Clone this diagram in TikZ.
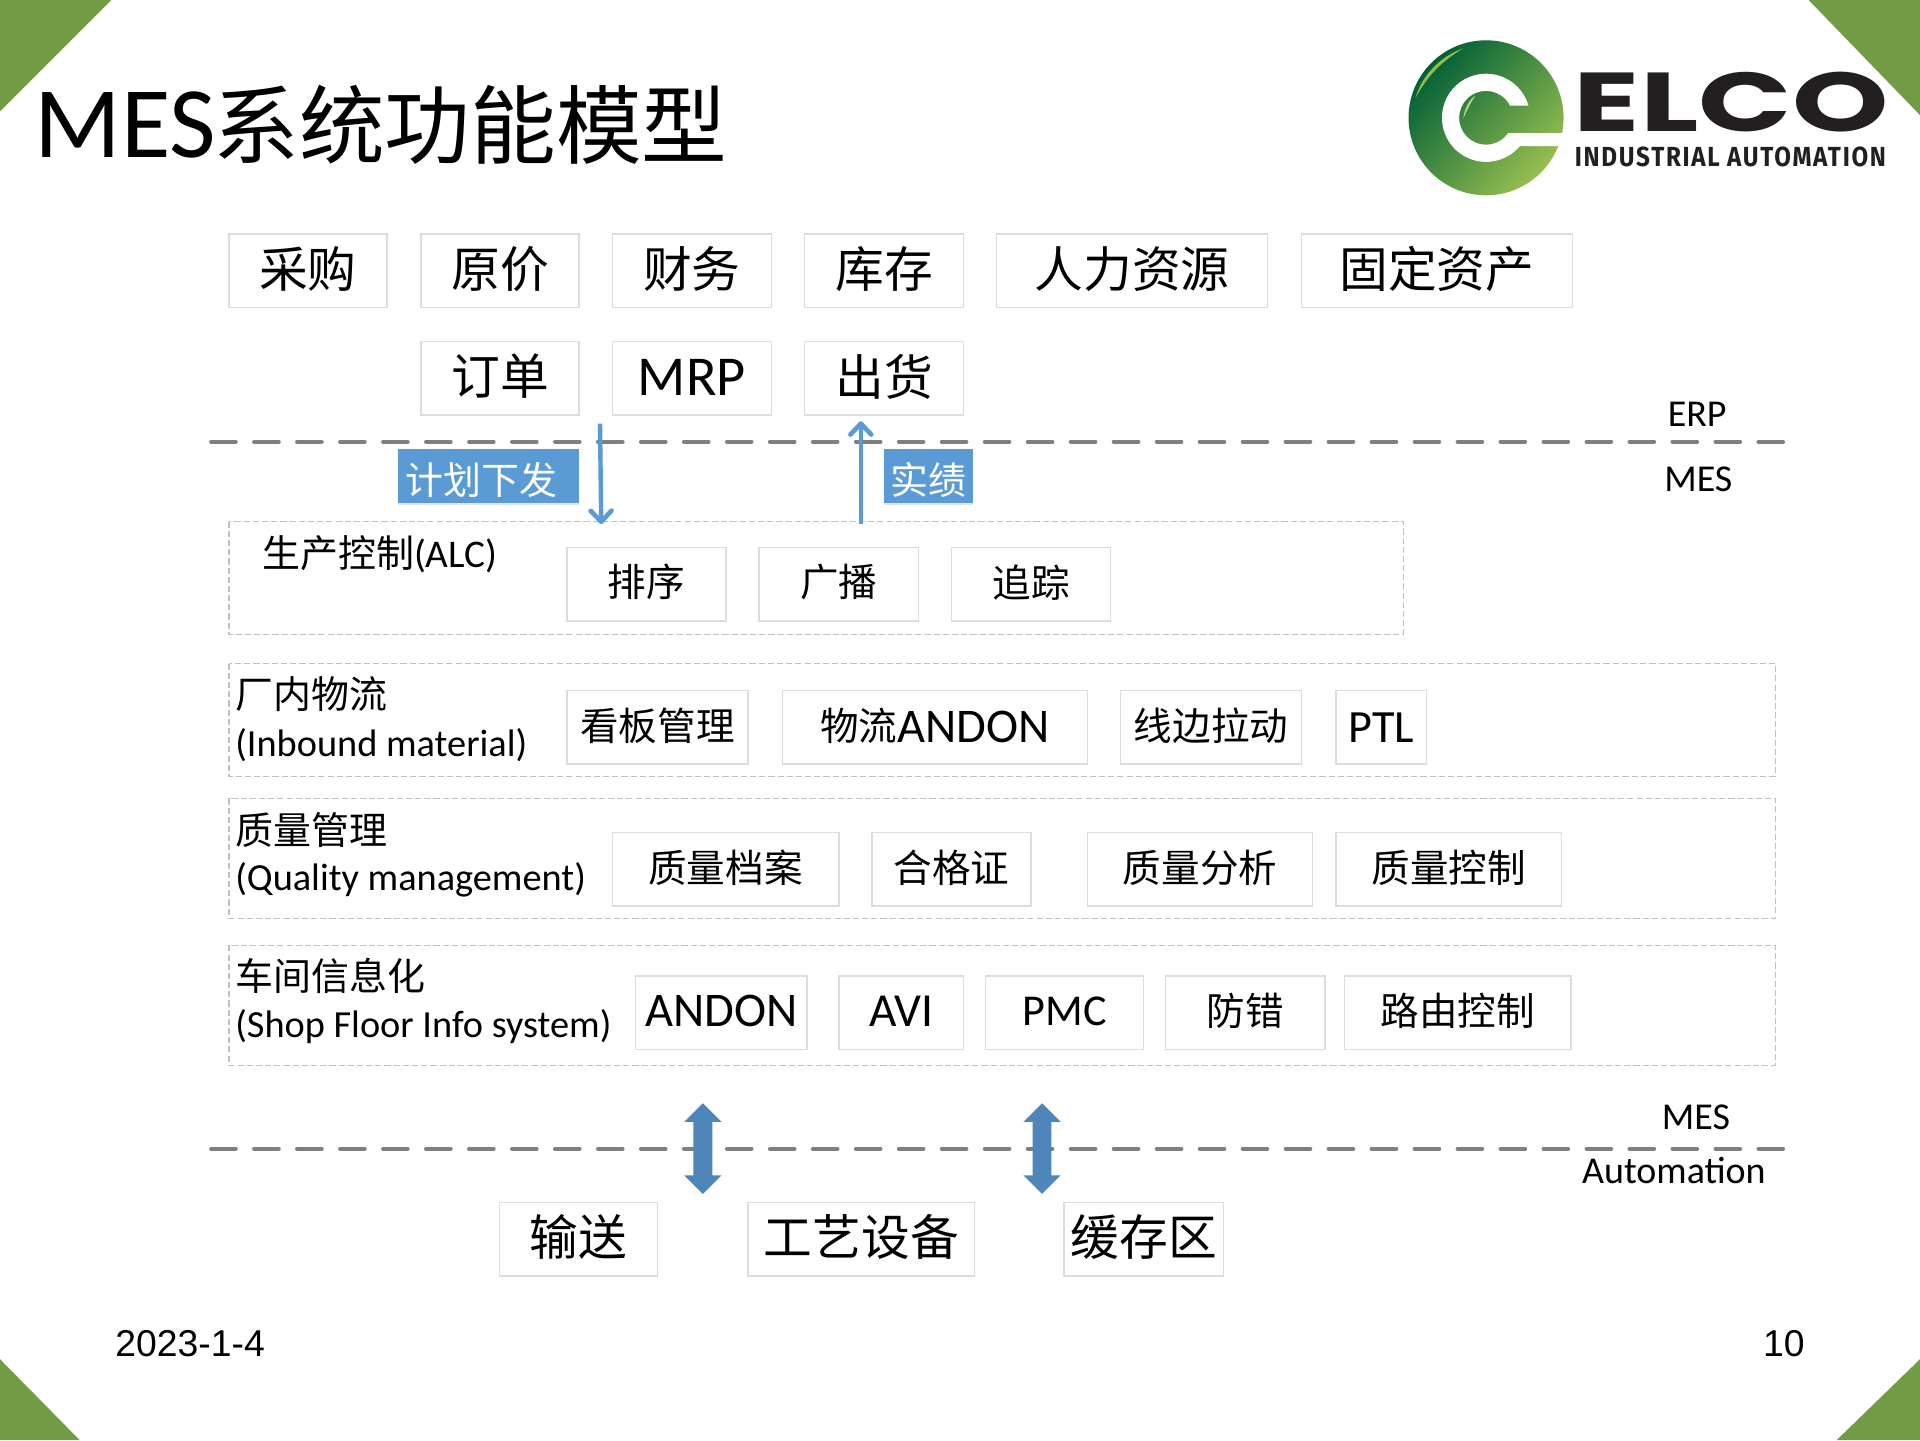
\documentclass[tikz,border=0pt]{standalone}
\usepackage{fontspec}
\usepackage{graphicx}
\usetikzlibrary{shapes.arrows,shadows,arrows.meta,calc}
\setmainfont{Carlito}
\newfontfamily\cjk{Noto Sans CJK SC}
\newfontfamily\arial{Liberation Sans}
\newfontfamily\logofont{Poppins}[BoldFont=* Bold]
\newfontfamily\logosub{Fira Sans}[BoldFont=* Bold,LetterSpace=7]
\newcommand\fsz[1]{\fontsize{#1}{#1}\selectfont}
\newcommand\cb[1]{\raisebox{1.5pt}[\height][\depth]{\cjk #1}}
\newcommand\lt[2]{{\fsz{#1}#2}}
\newcommand\ltup[2]{\raisebox{1pt}[\height][\depth]{\fsz{#1}#2}}
\definecolor{cornergreen}{HTML}{729B46}
\definecolor{boxline}{HTML}{DCDCDC}
\definecolor{groupline}{HTML}{BFBFBF}
\definecolor{dashgrey}{HTML}{7F7F7F}
\definecolor{flowblue}{HTML}{5B9BD5}
\definecolor{blockblue}{HTML}{4F86BA}
\definecolor{logodark}{HTML}{005F36}
\definecolor{logomid}{HTML}{17693B}
\definecolor{logolight}{HTML}{98BF50}
\definecolor{logoshine}{HTML}{93BC4C}
\definecolor{logotext}{HTML}{231F20}
\tikzset{
  x=1pt,y=-1pt,
  bx/.style={draw=boxline,line width=1.2pt,fill=white,inner sep=0pt,align=center,text=black},
  bigbox/.style={bx,font=\fsz{39.8}},
  smallbox/.style={bx,font=\fsz{31.5}},
  group/.style={draw=groupline,line width=1.2pt,dash pattern=on 5pt off 2.5pt},
  sep/.style={draw=dashgrey,line width=3.4pt,line cap=round,dash pattern=on 20pt off 15.1pt},
  flow/.style={draw=flowblue,line width=3.6pt,-{Straight Barb[length=9pt,width=17pt,line width=3.8pt,round]}},
  tag/.style={fill=flowblue,text=white,inner sep=0pt,font=\fsz{31},drop shadow={shadow xshift=0pt,shadow yshift=-1.5pt,opacity=.2}},
  lab/.style={inner sep=0pt,anchor=west,font=\fsz{31},text=black},
  labe/.style={inner sep=0pt,anchor=west,font=\fsz{31.3},text=black},
  side/.style={inner sep=0pt,font=\fsz{31},text=black},
  block/.style={shape=double arrow,fill=blockblue,inner sep=0pt,rotate=90,minimum height=74pt,double arrow head extend=7.5pt,double arrow tip angle=90},
  corner/.style={fill=cornergreen,draw=none},
}
\newcommand\bxat[7]{\node[#1,minimum width=#5pt-#4pt,minimum height=60pt] (#2) at ({(#4+#5)/2},#3) {#7};}
\begin{document}
\begin{tikzpicture}
\useasboundingbox (0,0) rectangle (1568,1176);
\fill[white] (0,0) rectangle (1568,1176);
% corners
\fill[corner] (0,0) -- (91,0) -- (0,91) -- cycle;
\fill[corner] (1477,0) -- (1568,0) -- (1568,94) -- cycle;
\fill[corner] (0,1110) -- (65,1176) -- (0,1176) -- cycle;
\fill[corner] (1568,1110) -- (1568,1176) -- (1500,1176) -- cycle;
% title
\node[inner sep=0pt,anchor=base west,font=\fsz{82.7}] (titlea) at (28,129) {MES};
\node[inner sep=0pt,anchor=base west,font=\fsz{70}] (titleb) at (174,129) {\cjk 系统功能模型};
% logo
\coordinate (lc) at (1213.6,96.2);
\shade[top color=logodark,middle color=logomid,bottom color=logolight,shading angle=48]
  (lc) circle [radius=63.3];
\fill[white] ($(lc)+(-16.0:36)$) arc[start angle=-16.0,end angle=-319.9,radius=36]
  -- ($(lc)+(66,23.1)$) -- ($(lc)+(66,12.5)$) -- ($(lc)+(34.6:22)$)
  arc[start angle=34.6,end angle=333,radius=22] -- cycle;
\fill[logoshine] (1156,80) .. controls (1161,62) and (1176,46) .. (1195,39.5)
  .. controls (1177,50) and (1165,63) .. (1156,80) -- cycle;
\fill[logoshine!70!white] (1195,97) .. controls (1196,88) and (1200,81) .. (1205,78)
  .. controls (1201,84) and (1198,90) .. (1195,97) -- cycle;
\node[inner sep=0pt,anchor=south west,text=logotext] (elco) at (1285,108.4)
  {\resizebox{257pt}{48.5pt}{\logofont\bfseries ELCO}};
\node[inner sep=0pt,anchor=south west,text=logotext] (ind) at (1286,136.5)
  {\resizebox{254pt}{16pt}{\logosub\bfseries INDUSTRIAL AUTOMATION}};
% ERP row
\bxat{bigbox}{cg}{221}{187}{316}{}{\cb{采购}}
\bxat{bigbox}{yj}{221}{344}{473}{}{\cb{原价}}
\bxat{bigbox}{cw}{221}{500}{630}{}{\cb{财务}}
\bxat{bigbox}{kc}{221}{657}{787}{}{\cb{库存}}
\bxat{bigbox}{rl}{221}{814}{1035}{}{\cb{人力资源}}
\bxat{bigbox}{gd}{221}{1063}{1284}{}{\cb{固定资产}}
\bxat{bigbox}{dd}{309}{344}{473}{}{\cb{订单}}
\bxat{bigbox}{mrp}{309}{500}{630}{}{\ltup{46}{MRP}}
\bxat{bigbox}{ch}{309}{657}{787}{}{\cb{出货}}
% separators
\coordinate (sa1) at (172.5,360.7); \coordinate (sa2) at (1458,360.7);
\coordinate (sb1) at (172.5,938); \coordinate (sb2) at (1458,938);
\draw[sep] (sa1) -- (sa2);
\draw[sep] (sb1) -- (sb2);
\node[side] (erp) at (1386,338) {ERP};
\node[side] (mesa) at (1387,391.5) {MES};
\node[side] (mesb) at (1385,912.5) {MES};
\node[side] (auto) at (1367,956) {Automation};
% groups
\draw[group] (187,426) rectangle (1146,518);
\draw[group] (187,542) rectangle (1450,634);
\draw[group] (187,652) rectangle (1450,750);
\draw[group] (187,772) rectangle (1450,870);
% flows
\coordinate (fa1) at (490,346); \coordinate (fa2) at (491,428);
\coordinate (fb1) at (703,428); \coordinate (fb2) at (703,344);
\draw[flow] (fa1) -- (fa2);
\draw[flow] (fb1) -- (fb2);
\node[tag,minimum width=148pt,minimum height=44pt] (jh) at (399,389)
  {\raisebox{-3pt}[\height][\depth]{\makebox[148pt][l]{\hspace{6pt}\cjk 计划下发}}};
\node[tag,minimum width=73pt,minimum height=44pt] (sj) at (758.5,389)
  {\raisebox{-3pt}[\height][\depth]{\cjk 实绩}};
% ALC
\node[lab] (alc) at (214,453) {{\cjk 生产控制}\lt{32}{(ALC)}};
\bxat{smallbox}{px}{477}{463}{593}{}{\cb{排序}}
\bxat{smallbox}{gb}{477}{620}{750}{}{\cb{广播}}
\bxat{smallbox}{zz}{477}{777}{907}{}{\cb{追踪}}
% inbound
\node[lab] (wl) at (192,567) {\cjk 厂内物流};
\node[labe] (wle) at (192,608.5) {(Inbound material)};
\bxat{smallbox}{kb}{594}{463}{611}{}{\cb{看板管理}}
\bxat{smallbox}{wa}{594}{639}{888}{}{\cb{物流}\lt{39.5}{ANDON}}
\bxat{smallbox}{xb}{594}{915}{1063}{}{\cb{线边拉动}}
\bxat{smallbox}{ptl}{594}{1091}{1165}{}{\lt{37.7}{PTL}}
% quality
\node[lab] (zl) at (192,678) {\cjk 质量管理};
\node[labe] (zle) at (192,718.5) {(Quality management)};
\bxat{smallbox}{da}{710}{500}{685}{}{\cb{质量档案}}
\bxat{smallbox}{hg}{710}{712}{842}{}{\cb{合格证}}
\bxat{smallbox}{fx}{710}{888}{1072}{}{\cb{质量分析}}
\bxat{smallbox}{kz}{710}{1091}{1275}{}{\cb{质量控制}}
% shop floor
\node[lab] (cj) at (192,797) {\cjk 车间信息化};
\node[labe] (cje) at (192,838.5) {(Shop Floor Info system)};
\bxat{smallbox}{an}{827}{519}{659}{}{\ltup{39.5}{ANDON}}
\bxat{smallbox}{avi}{827}{685}{787}{}{\ltup{38.7}{AVI}}
\bxat{smallbox}{pmc}{827}{805}{934}{}{\ltup{36}{PMC}}
\bxat{smallbox}{fc}{827}{952}{1082}{}{\cb{防错}}
\bxat{smallbox}{ly}{827}{1098}{1283}{}{\cb{路由控制}}
% bottom
\node[block] (ba) at (574,938) {\rule{0pt}{15pt}};
\node[block] (bb) at (851,938) {\rule{0pt}{15pt}};
\bxat{bigbox}{ss}{1012}{408}{537}{}{\cb{输送}}
\bxat{bigbox}{gy}{1012}{611}{796}{}{\cb{工艺设备}}
\bxat{bigbox}{hc}{1012}{869}{999}{}{\cb{缓存区}}
% footer
\node[inner sep=0pt,anchor=west,font=\arial\fsz{30.5}] (date) at (94,1097) {2023-1-4};
\node[inner sep=0pt,anchor=east,font=\arial\fsz{30.5}] (page) at (1474,1097) {10};
\end{tikzpicture}
\end{document}
